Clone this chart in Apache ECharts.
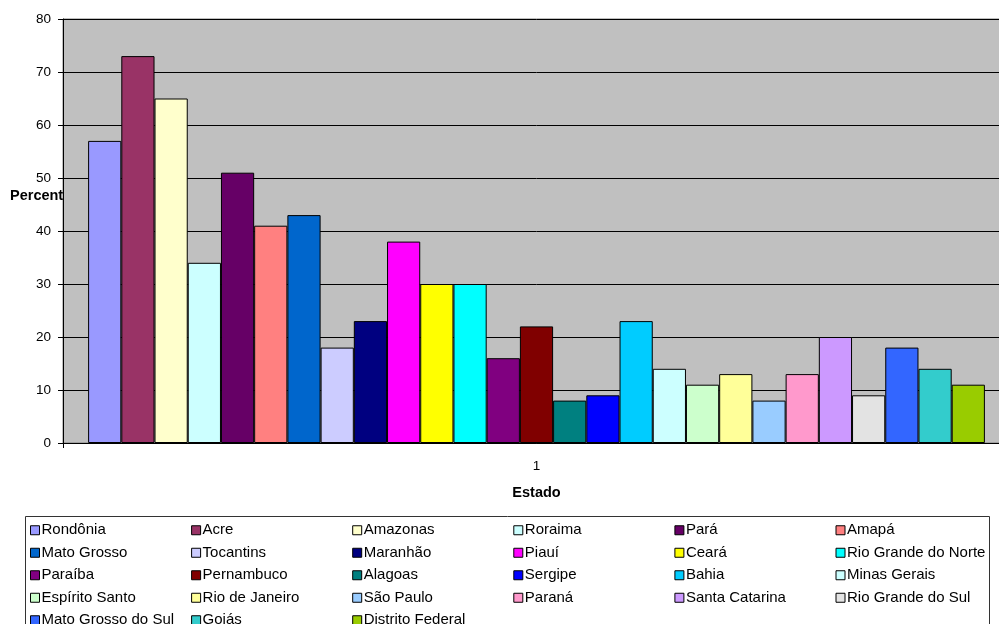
<!DOCTYPE html>
<html>
<head>
<meta charset="utf-8">
<script src="https://cdn.jsdelivr.net/npm/echarts@6/dist/echarts.min.js"></script>
<style>html,body{margin:0;padding:0;background:#fff;overflow:hidden;width:999px;height:624px}#c{width:1010px;height:624px}</style>
</head>
<body>
<div id="c"></div>
<script>
var categories = ['1'];
var states = ['Rondônia','Acre','Amazonas','Roraima','Pará','Amapá','Mato Grosso','Tocantins','Maranhão','Piauí','Ceará','Rio Grande do Norte','Paraíba','Pernambuco','Alagoas','Sergipe','Bahia','Minas Gerais','Espírito Santo','Rio de Janeiro','São Paulo','Paraná','Santa Catarina','Rio Grande do Sul','Mato Grosso do Sul','Goiás','Distrito Federal'];
var values = [57,73,65,34,51,41,43,18,23,38,30,30,16,22,8,9,23,14,11,13,8,13,20,9,18,14,11];
var colors = ['#9999FF','#993366','#FFFFCC','#CCFFFF','#660066','#FF8080','#0066CC','#CCCCFF','#000080','#FF00FF','#FFFF00','#00FFFF','#800080','#800000','#008080','#0000FF','#00CCFF','#CCFFFF','#CCFFCC','#FFFF99','#99CCFF','#FF99CC','#CC99FF','#E3E3E3','#3366FF','#33CCCC','#99CC00'];
var yTicks = [0,10,20,30,40,50,60,70,80];

var font = 'Liberation Sans, Arial, sans-serif';
var series = states.map(function(s,i){
  return {
    name: s, type: 'bar', data: [values[i]],
    barGap: '0%', barCategoryGap: '5.3%',
    itemStyle: {color: colors[i], borderColor: '#000', borderWidth: 1},
    emphasis: {disabled: true}
  };
});
var chart = echarts.init(document.getElementById('c'));
chart.setOption({
  animation: false,
  color: colors,
  textStyle: {fontFamily: font},
  grid: {left: 63, top: 19, right: 0, bottom: 181, show: true, backgroundColor: '#C0C0C0', borderColor: '#808080', borderWidth: 1, containLabel: false},
  xAxis: {
    type: 'category', data: categories,
    name: 'Estado', nameLocation: 'middle', nameGap: 42,
    nameTextStyle: {fontFamily: font, fontSize: 14.5, fontWeight: 'bold', color: '#000'},
    axisLine: {lineStyle: {color: '#000', width: 1}},
    axisTick: {show: true, length: 5, lineStyle: {color: '#000'}},
    axisLabel: {fontFamily: font, fontSize: 13.5, color: '#000', margin: 16},
    splitLine: {show: false}
  },
  yAxis: {
    type: 'value', min: yTicks[0], max: yTicks[yTicks.length-1], interval: 10,
    axisLine: {show: true, lineStyle: {color: '#000', width: 1}},
    axisTick: {show: true, length: 5, lineStyle: {color: '#000'}},
    axisLabel: {fontFamily: font, fontSize: 13.5, color: '#000', margin: 12},
    splitLine: {show: true, lineStyle: {color: '#000', width: 1}}
  },
  legend: {
    data: states, orient: 'horizontal', left: 30, top: 519, width: 975, padding: 0,
    itemWidth: 9, itemHeight: 9, itemGap: 0,
    icon: 'rect',
    itemStyle: {borderColor: '#000', borderWidth: 1},
    textStyle: {fontFamily: font, fontSize: 15, color: '#000', width: 149.6, padding: [0,0,0,-3], lineHeight: 22.5, height: 22.5}
  },
  graphic: [
    {type: 'rect', shape: {x: 25.5, y: 516.5, width: 964, height: 130}, style: {fill: 'none', stroke: '#333', lineWidth: 1}, silent: true, z: 0},
    {type: 'text', left: 10, top: 188, style: {text: 'Percent', font: 'bold 14.5px ' + font, fill: '#000'}, z: 10}
  ],
  series: series
});
</script>
</body>
</html>
